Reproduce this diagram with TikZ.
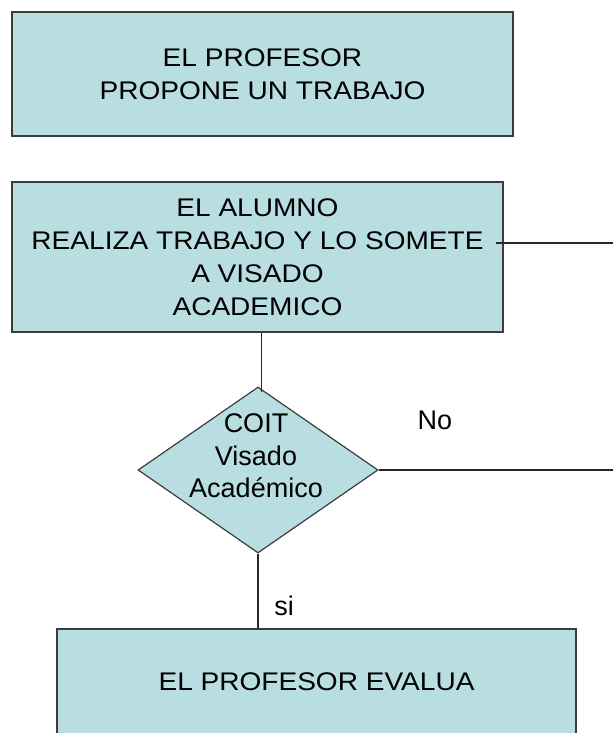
\documentclass[tikz,border=0pt]{standalone}
\usepackage{fontspec}
\setmainfont{Liberation Sans}
\newfontfamily\boxfont{Liberation Sans}[FakeStretch=1.1]
\usetikzlibrary{shapes.geometric}
\definecolor{boxfill}{RGB}{185,222,226}
\definecolor{boxedge}{RGB}{60,60,60}
\definecolor{wire}{RGB}{40,40,40}
\tikzset{
  procbox/.style={draw=boxedge, line width=1.4pt, fill=boxfill, inner sep=0pt,
    align=center, font=\boxfont\fontsize{25.5}{33}\selectfont},
  decision/.style={diamond, draw=boxedge, line width=1.2pt, fill=boxfill, inner sep=0pt},
  dectext/.style={align=center, font=\fontsize{27}{32.5}\selectfont},
  lbl/.style={font=\fontsize{27}{32}\selectfont},
  conn/.style={draw=wire, line width=1.2pt}
}
\begin{document}
\begin{tikzpicture}[x=1pt,y=-1pt]
\useasboundingbox (0,0) rectangle (613,733);
\clip (0,0) rectangle (613,733);
\fill[white] (0,0) rectangle (613,733);
\node[procbox, minimum width=501pt, minimum height=124pt] (b1) at (262.5,74)
  {EL PROFESOR\\PROPONE UN TRABAJO};
\node[procbox, minimum width=491pt, minimum height=150pt] (b2) at (257.5,257)
  {EL ALUMNO\\REALIZA TRABAJO Y LO SOMETE\\A VISADO\\ACADEMICO};
\node[decision, minimum width=240pt, minimum height=166pt] (d) at (258,470) {};
\node[dectext] (dt) at (256,456) {COIT\\Visado\\Académico};
\node[procbox, minimum width=519pt, minimum height=106pt] (b3) at (316.5,682)
  {EL PROFESOR EVALUA};
\node[lbl] (no) at (435,420) {No};
\node[lbl] (si) at (284,606) {si};
\coordinate (r1s) at (496,243);
\coordinate (r1e) at (613,243);
\coordinate (r2e) at (613,470);
\draw[conn] (r1s) -- (r1e);
\draw[conn] ([xshift=4pt]b2.south) -- ([xshift=4pt]b2.south |- 0,392);
\draw[conn] (d.east) -- (r2e);
\draw[conn] (d.south) -- (d.south |- b3.north);
\end{tikzpicture}
\end{document}
